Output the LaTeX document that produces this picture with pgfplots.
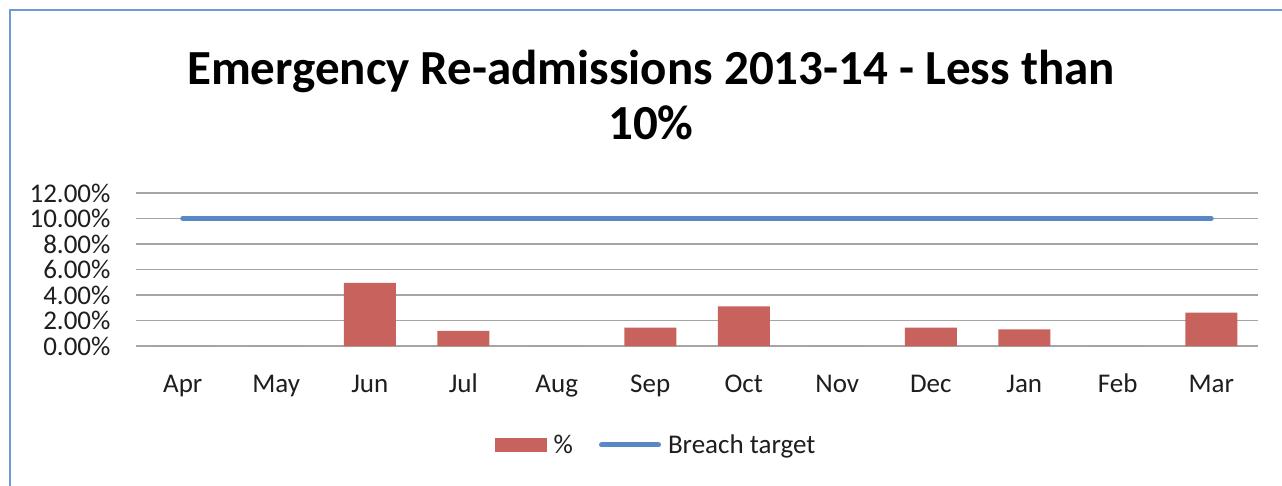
\documentclass[border=0pt]{standalone}
\usepackage{pgfplots}
\pgfplotsset{compat=1.18}
\usepackage{fontspec}
\setmainfont{Carlito}
\definecolor{barred}{RGB}{199,99,92}
\definecolor{lineblue}{RGB}{88,137,196}
\definecolor{framebl}{RGB}{110,155,210}
\definecolor{gridgray}{RGB}{165,165,165}
\definecolor{txt}{RGB}{30,30,30}

\begin{document}
\begin{tikzpicture}
\useasboundingbox (0pt,0pt) rectangle (1282pt,-486pt);
\fill[white] (0pt,0pt) rectangle (1282pt,-486pt);
\draw[framebl, line width=1.5pt] (10pt,-500pt) -- (10pt,-10pt) -- (1300pt,-10pt);
\begin{axis}[
  at={(136pt,-346pt)}, anchor=south west,
  scale only axis, width=1122pt, height=153pt,
  xmin=-0.5, xmax=11.5, ymin=0, ymax=12,
  xtick={0,...,11},
  xticklabels={Apr,May,Jun,Jul,Aug,Sep,Oct,Nov,Dec,Jan,Feb,Mar},
  ytick={0,2,4,6,8,10,12},
  yticklabels={0.00\%,2.00\%,4.00\%,6.00\%,8.00\%,10.00\%,12.00\%},
  major tick length=0pt,
  axis line style={draw=none},
  ymajorgrids,
  grid style={gridgray, line width=1.3pt},
  ticklabel style={font=\fontsize{27}{28}\selectfont, text=txt},
  yticklabel style={xshift=-22pt},
  xticklabel style={anchor=base, yshift=-46pt},
  title={Emergency Re-admissions 2013-14 - Less than\\10\%},
  title style={at={(0.459,1.60)}, anchor=center, align=center,
    font=\bfseries\fontsize{49}{55}\selectfont},
  legend style={at={(0.4626,-0.647)}, anchor=center, draw=none, fill=none,
    legend columns=2, font=\fontsize{27}{28}\selectfont, text=txt,
    nodes={inner sep=0pt},
    /tikz/every odd column/.append style={column sep=7pt},
    /tikz/every even column/.append style={column sep=26pt}},
]
\addplot[ybar, bar width=52pt, fill=barred, draw=none,
  legend image code/.code={\fill[barred] (0pt,-7pt) rectangle (52pt,7pt);}]
  coordinates {(0,0) (1,0) (2,4.95) (3,1.18) (4,0) (5,1.44) (6,3.11)
               (7,0) (8,1.44) (9,1.31) (10,0) (11,2.61)};
\addlegendentry{\%}
\addplot[lineblue, line width=5pt, line cap=round,
  legend image code/.code={\draw[lineblue, line width=5pt, line cap=round] (0pt,0pt) -- (57pt,0pt);}]
  coordinates {(0,10) (1,10) (2,10) (3,10) (4,10) (5,10) (6,10)
               (7,10) (8,10) (9,10) (10,10) (11,10)};
\addlegendentry{Breach target}
\end{axis}
\end{tikzpicture}
\end{document}
